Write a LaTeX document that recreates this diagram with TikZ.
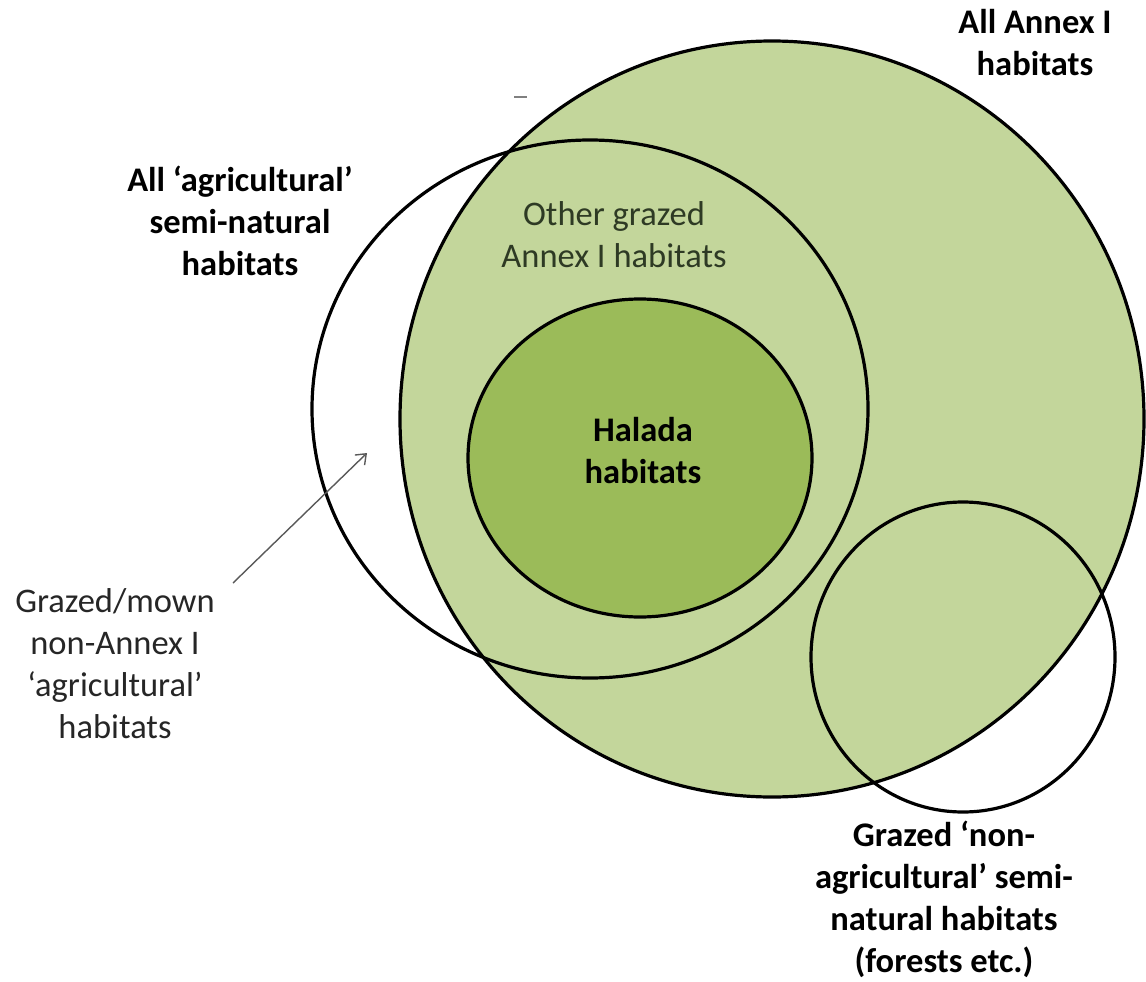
\documentclass[tikz,border=0pt]{standalone}
\usepackage{fontspec}
\setmainfont{Carlito}
\usetikzlibrary{arrows.meta,shapes.geometric}
\definecolor{lightgreen}{HTML}{C3D69B}
\definecolor{midgreen}{HTML}{9BBB59}
\definecolor{othertext}{HTML}{2E3A24}
\definecolor{plaintext}{HTML}{262626}
\definecolor{arrowgray}{HTML}{595959}
\begin{document}
\begin{tikzpicture}[x=1pt,y=-1pt,
  region/.style={ellipse, draw=black, line width=3.2pt, inner sep=0pt, outer sep=0pt},
  lbl/.style={align=center, anchor=base, inner sep=0pt, font=\fontsize{34.5}{42}\selectfont},
  boldlbl/.style={lbl, font=\fontsize{34.5}{42}\selectfont\bfseries},
  pointer/.style={draw=arrowgray, line width=1.4pt, -{Straight Barb[length=9pt,width=14pt,line width=1.4pt]}}
]
\useasboundingbox (0,0) rectangle (1146,982);

% regions
\node[region, fill=lightgreen, minimum width=744pt, minimum height=756pt] (annex) at (772,419) {};
\node[region, minimum width=556pt, minimum height=538pt] (agri) at (590,409) {};
\node[region, fill=midgreen, minimum width=344pt, minimum height=318pt] (halada) at (640,458) {};
\node[region, minimum width=304pt, minimum height=310pt] (nonagri) at (963,657) {};

% small stray dash
\draw[gray, line width=1.2pt] (514,97) -- (527,97);

% labels (anchor = baseline of last line)
\node[boldlbl] (annexlbl) at (1035,75) {All Annex I\\habitats};
\node[boldlbl] (agrilbl) at (240,275) {All ‘agricultural’\\semi-natural\\habitats};
\node[lbl, text=othertext] (otherlbl) at (614,267) {Other grazed\\Annex I habitats};
\node[boldlbl] (haladalbl) at (643,483) {Halada\\habitats};
\node[lbl, text=plaintext] (mownlbl) at (115,738) {Grazed/mown\\non-Annex I\\‘agricultural’\\habitats};
\node[boldlbl] (nonagrilbl) at (944,972) {Grazed ‘non-\\agricultural’ semi-\\natural habitats\\(forests etc.)};

% pointer
\coordinate (ptail) at (233,583);
\coordinate (phead) at (367,453);
\draw[pointer] (ptail) -- (phead);
\end{tikzpicture}
\end{document}
